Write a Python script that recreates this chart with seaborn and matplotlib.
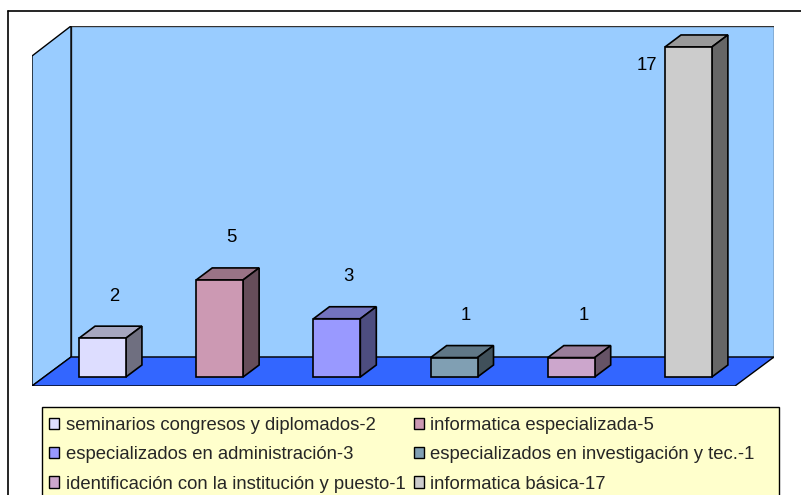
import numpy as np
import matplotlib
matplotlib.use("Agg")
import matplotlib.pyplot as plt
from matplotlib.patches import Polygon, Rectangle
from matplotlib.lines import Line2D
import matplotlib.colors as mcolors
import pandas as pd
import seaborn as sns

# Training courses and number of participants in each
categories = [
    "seminarios congresos y diplomados",
    "informatica especializada",
    "especializados en administración",
    "especializados en investigación y tec.",
    "identificación con la institución y puesto",
    "informatica básica",
]
values = [2, 5, 3, 1, 1, 17]
bar_colors = ["#DDDDFF", "#CC99B3", "#9999FF", "#809FB3", "#CCA6CC", "#CCCCCC"]

W, H = 801, 495
sns.set_theme(style="white")
plt.rcParams["font.family"] = ["Liberation Sans", "DejaVu Sans"]
FS = 13.3

fig = plt.figure(figsize=(W / 100, H / 100), dpi=100)
fig.patch.set_facecolor("white")


def fpt(x, y):
    """Pixel position (from top-left) to figure fraction."""
    return (x / W, 1 - y / H)


ax = fig.add_axes([32 / W, 1 - 386 / H, 742 / W, 360 / H])
ax.axis("off")

# Chart frame
fig.add_artist(Line2D([8 / W, 8 / W], [1 - 11 / H, 0], color="black", lw=1.2,
                      transform=fig.transFigure))
fig.add_artist(Line2D([8 / W, 1], [1 - 11 / H, 1 - 11 / H], color="black", lw=1.2,
                      transform=fig.transFigure))

# Walls and floor of the 3D box
wall_c = "#99CCFF"
floor_c = "#3366FF"
back = Polygon([fpt(71, 26), fpt(774, 26), fpt(774, 357), fpt(71, 357)],
               closed=True, facecolor=wall_c, edgecolor="#333333", lw=1.0,
               transform=fig.transFigure, zorder=0)
side = Polygon([fpt(32, 56), fpt(71, 26), fpt(71, 357), fpt(32, 386)],
               closed=True, facecolor=wall_c, edgecolor="black", lw=1.0,
               transform=fig.transFigure, zorder=0.5)
floor = Polygon([fpt(32, 386), fpt(71, 357), fpt(774, 357), fpt(735, 386)],
                closed=True, facecolor=floor_c, edgecolor="black", lw=1.0,
                transform=fig.transFigure, zorder=0.6)
for p in (back, side, floor):
    ax.add_patch(p)

df = pd.DataFrame({"curso": categories, "n": values})
sns.barplot(data=df, x="curso", y="n", hue="curso", palette=bar_colors,
            saturation=1, width=0.4, edgecolor="black", linewidth=1.2,
            legend=False, ax=ax, zorder=3)

ax.set_xlim(-0.6015, 5.730)
ax.set_ylim(-0.464, 18.08)
ax.axis("off")

# Depth faces of each bar (top and right side), offset in pixels
dx, dy = 16, 12
inv = ax.transData.inverted()
bars = [p for p in ax.patches if isinstance(p, Rectangle)]
for bar, col in zip(bars, bar_colors):
    x0, w, h = bar.get_x(), bar.get_width(), bar.get_height()
    rgb = np.array(mcolors.to_rgb(col))
    a = ax.transData.transform([(x0, h), (x0 + w, h)])
    b = ax.transData.transform([(x0 + w, 0), (x0 + w, h)])
    top = np.vstack([a[0], a[1], a[1] + (dx, dy), a[0] + (dx, dy)])
    rside = np.vstack([b[0], b[1], b[1] + (dx, dy), b[0] + (dx, dy)])
    ax.add_patch(Polygon(inv.transform(top), closed=True, facecolor=rgb * 0.75,
                         edgecolor="black", lw=1.2, zorder=2.9))
    ax.add_patch(Polygon(inv.transform(rside), closed=True, facecolor=rgb * 0.5,
                         edgecolor="black", lw=1.2, zorder=2.9))

# Value labels above each bar
for bar, v in zip(bars, values):
    xc = bar.get_x() + bar.get_width() / 2
    off = (-42, -19) if v == max(values) else (12, 42)
    ax.annotate(f"{v}", (xc, v), xytext=off, textcoords="offset pixels",
                ha="center", va="center", fontsize=FS, color="black")

# Legend box and entries, filled row by row
fig.add_artist(Rectangle(fpt(42, 500), 737 / W, 93 / H, facecolor="#FFFFCC",
                         edgecolor="black", lw=1.0, transform=fig.transFigure,
                         zorder=1))
handles = [Rectangle((0, 0), 1, 1, facecolor=c, edgecolor="black", lw=1.0)
           for c in bar_colors]
labels = [f"{c}-{v}" for c, v in zip(categories, values)]
order = [0, 2, 4, 1, 3, 5]
leg = fig.legend([handles[i] for i in order], [labels[i] for i in order],
                 ncol=2, loc="upper left",
                 bbox_to_anchor=fpt(39, 407), bbox_transform=fig.transFigure,
                 fontsize=FS, frameon=False,
                 handlelength=0.55, handleheight=0.55, handletextpad=0.35,
                 labelspacing=0.66, borderpad=0.55, borderaxespad=0,
                 columnspacing=0.45)
leg.set_zorder(2)

fig.savefig("out.png", dpi=100)
